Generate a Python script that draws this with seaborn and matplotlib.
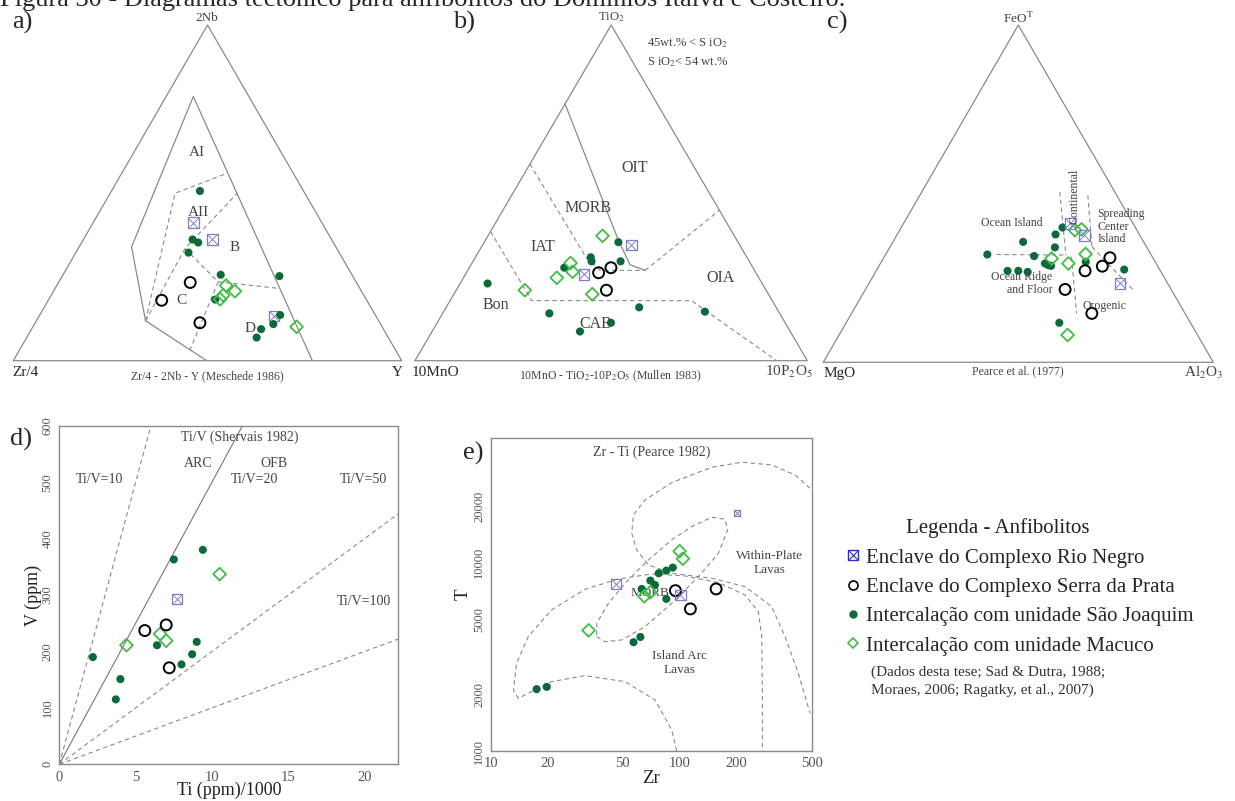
import numpy as np
import matplotlib
matplotlib.use("Agg")
import matplotlib.pyplot as plt
from matplotlib.lines import Line2D
import seaborn as sns

W, H = 1235, 801

# ---------------- data ----------------
# a) Meschede (1986): (Zr/4, 2Nb, Y) in %
a_rio_negro = [(33.1, 41.1, 25.8), (30.7, 36.2, 33.2), (26.2, 13.3, 60.5)]
a_serra_prata = [(42.8, 23.3, 33.9), (52.8, 18.0, 29.2), (46.3, 11.3, 42.4)]
a_sao_joaquim = [(26.7, 50.6, 22.8), (35.8, 36.1, 28.1), (34.8, 35.2, 30.0), (38.8, 32.2, 29.0),
                 (33.8, 25.6, 40.6), (18.9, 25.2, 55.9), (38.9, 18.2, 42.9), (24.5, 13.6, 61.9),
                 (27.6, 10.9, 61.5), (31.5, 9.4, 59.1), (33.9, 6.9, 59.2)]
a_macuco = [(34.0, 22.4, 43.6), (32.6, 20.7, 46.7), (36.2, 19.5, 44.3), (37.6, 18.3, 44.1),
            (22.0, 10.1, 67.9)]

# b) Mullen (1983): (10MnO, TiO2, 10P2O5) in %
b_rio_negro = [(27.6, 34.5, 37.9), (44.1, 25.7, 30.2)]
b_serra_prata = [(40.1, 26.2, 33.7), (36.2, 27.7, 36.1), (40.7, 21.0, 38.3)]
b_sao_joaquim = [(70.0, 23.0, 7.0), (30.5, 35.3, 34.2), (39.8, 30.8, 29.4), (40.2, 29.6, 30.2),
                 (32.8, 29.6, 37.6), (48.1, 27.7, 24.2), (58.7, 14.1, 27.2), (34.9, 15.9, 49.2),
                 (18.8, 14.6, 66.6), (44.4, 11.3, 44.3), (53.6, 8.7, 37.7)]
b_macuco = [(33.6, 37.2, 29.2), (45.8, 29.1, 25.1), (46.6, 26.5, 26.9), (51.5, 24.7, 23.8),
            (61.5, 21.0, 17.5), (44.9, 19.8, 35.3)]

# c) Pearce et al. (1977): (MgO, FeOT, Al2O3) in %
c_rio_negro = [(16.2, 41.2, 42.7), (14.2, 37.7, 48.1), (12.2, 23.4, 64.4)]
c_serra_prata = [(11.0, 31.0, 58.0), (14.2, 28.5, 57.3), (19.3, 27.1, 53.5), (27.2, 21.6, 51.2),
                 (23.9, 14.5, 61.6)]
c_sao_joaquim = [(42.0, 32.0, 26.1), (30.9, 35.7, 33.4), (30.2, 31.5, 38.3), (39.2, 27.1, 33.7),
                 (36.4, 27.1, 36.4), (34.2, 26.8, 39.0), (28.5, 29.3, 42.2), (27.9, 28.8, 43.3),
                 (27.3, 28.6, 44.1), (23.6, 34.1, 42.4), (21.5, 37.9, 40.6), (18.7, 40.0, 41.4),
                 (17.8, 29.8, 52.4), (9.1, 27.5, 63.4), (33.6, 11.7, 54.6)]
c_macuco = [(15.9, 39.2, 44.9), (14.1, 39.4, 46.5), (16.7, 32.1, 51.2), (26.1, 30.8, 43.2),
            (22.5, 29.3, 48.2), (33.3, 8.1, 58.6)]

# d) Ti/1000 and V (ppm)
d_rn_ti, d_rn_v = [7.7], [293]
d_sp_ti, d_sp_v = [5.6, 7.0, 7.2], [237, 247, 171]
d_sj_ti = [2.2, 4.0, 3.7, 7.5, 9.4, 6.4, 9.0, 8.7, 8.0]
d_sj_v = [190, 151, 115, 363, 380, 211, 217, 195, 177]
d_mc_ti, d_mc_v = [4.4, 10.5, 6.6, 7.0], [211, 337, 231, 219]
tiv_ratios = [10, 20, 50, 100]

# e) Zr and Ti (ppm)
e_rn_zr, e_rn_ti = [46, 101], [7700, 6740]
e_rn_small_zr, e_rn_small_ti = [201], [18300]
e_sp_zr, e_sp_ti = [95, 156, 114], [7100, 7250, 5680]
e_sj_zr = [17.5, 19.8, 57, 62, 63, 70, 74, 77.5, 85, 92, 85]
e_sj_ti = [2130, 2190, 3780, 4030, 7250, 8030, 7610, 8780, 9070, 9410, 6420]
e_mc_zr, e_mc_ti = [33, 100, 104, 65, 70], [4370, 11500, 10500, 6630, 6960]

# field boundaries (ternary %)
a_solid = [(23, 0, 77), (14.3, 78.7, 7.0), (52.6, 33.9, 13.5), (60.0, 11.9, 28.1), (50.2, 0, 49.8)]
a_dashed = [
    [(60.0, 11.9, 28.1), (33.4, 49.9, 16.7), (17.1, 55.8, 27.1)],
    [(60.0, 11.9, 28.1), (39.1, 33.4, 27.5), (17.5, 49.8, 32.7)],
    [(39.1, 33.4, 27.5), (35.5, 23.5, 41.0), (20.6, 21.5, 57.9)],
    [(35.5, 23.5, 41.0), (52.9, 3.2, 43.9)],
]
b_solid = [(23.5, 76.5, 0), (30.2, 36.0, 33.8), (30.9, 28.6, 40.5), (27.9, 26.9, 45.2)]
b_dashed = [
    [(27.9, 26.9, 45.2), (0, 44.8, 55.2)],
    [(41.4, 58.6, 0), (41.0, 30.6, 28.4), (39.4, 26.9, 33.7), (27.9, 26.9, 45.2)],
    [(61.5, 38.5, 0), (61.3, 17.9, 20.8), (20.6, 17.9, 61.6), (7.8, 0, 92.2)],
]
c_dashed = [
    [(14.1, 50.5, 35.4), (21.9, 31.8, 46.3)],
    [(7.4, 49.6, 43.1), (14.0, 34.3, 51.8)],
    [(39.6, 32.0, 28.5), (21.9, 31.8, 46.3)],
    [(20.7, 31.3, 48.0), (27.8, 14.5, 57.7)],
    [(14.0, 34.3, 51.8), (9.8, 21.4, 68.8)],
]

# Pearce 1982 field outlines (Zr, Ti)
e_iat_zr = [96.5, 90.8, 74.1, 51.4, 31.6, 21.0, 15.8, 14.0, 13.2, 13.7, 15.8, 21.0, 31.6, 47.4,
            71.2, 106.8, 160.3, 221.9, 261.1, 271.9, 274.1, 274.1]
e_iat_ti = [1000, 1293, 1866, 2334, 2512, 2334, 2024, 1904, 2108, 2921, 4047, 5607, 7219, 8190,
            8703, 8497, 7832, 6735, 5494, 4047, 1943, 1000]
e_wpl_zr = [490, 408, 307, 213, 147.8, 90.8, 65.6, 56.9, 55.8, 59.3, 68.3, 90.8, 147.8, 221.9,
            307, 361.4, 425, 490]
e_wpl_ti = [24810, 29210, 33010, 34100, 32080, 26590, 21510, 17910, 14320, 11680, 9720, 8780,
            8260, 7457, 5840, 4047, 2585, 1585]
e_morb_zr = [36.4, 40.3, 49.4, 65.6, 90.8, 125.7, 160.3, 179.6, 173.9, 147.8, 115.8, 90.8,
             68.3, 51.4, 42.0, 36.4, 36.4]
e_morb_ti = [4047, 3806, 3885, 4574, 6084, 8428, 11210, 14910, 16990, 17410, 15530, 13200,
             10330, 7769, 6084, 4764, 4047]

# ---------------- style ----------------
sns.set_style("white")
plt.rcParams['font.family'] = ['Liberation Serif', 'DejaVu Serif']
plt.rcParams['mathtext.fontset'] = 'stix'

GRAY = '#8a8a8a'
TXT = '#444444'
C_RN = '#7f7fc6'
C_SJ = '#0b6a38'
C_MC = '#3fbd45'

fig = plt.figure(figsize=(W / 100, H / 100), dpi=100)


def px_rect(l, r, t, b):
    return [l / W, 1 - b / H, (r - l) / W, (b - t) / H]


def ftext(x, y, s, **kw):
    kw.setdefault('ha', 'center')
    kw.setdefault('va', 'center')
    fig.text(x / W, 1 - y / H, s, **kw)


def tern_xy(pts):
    arr = np.asarray(pts, float)
    arr = arr / arr.sum(axis=1, keepdims=True)
    return arr[:, 2] + arr[:, 1] / 2, arr[:, 1] * np.sqrt(3) / 2


def draw(ax, x, y, kind, scale=1.0):
    if kind == 'rn':
        sns.scatterplot(x=x, y=y, ax=ax, marker='s', s=60 * scale, color=C_RN, facecolor='none',
                        edgecolor=C_RN, linewidth=0.9, legend=False, zorder=3, clip_on=False)
        sns.scatterplot(x=x, y=y, ax=ax, marker='x', s=60 * scale, color=C_RN,
                        linewidth=0.7, legend=False, zorder=3, clip_on=False)
    elif kind == 'sp':
        sns.scatterplot(x=x, y=y, ax=ax, marker='o', s=62, color='black', facecolor='none',
                        edgecolor='black', linewidth=1.4, legend=False, zorder=3, clip_on=False)
    elif kind == 'sj':
        sns.scatterplot(x=x, y=y, ax=ax, marker='o', s=34, color=C_SJ, edgecolor='none',
                        legend=False, zorder=3, clip_on=False)
    else:
        sns.scatterplot(x=x, y=y, ax=ax, marker='D', s=42, color=C_MC, facecolor='none',
                        edgecolor=C_MC, linewidth=1.3, legend=False, zorder=3, clip_on=False)


def tern_panel(rect, groups, solid, dashed):
    ax = fig.add_axes(rect)
    ax.set_xlim(0, 1)
    ax.set_ylim(0, np.sqrt(3) / 2)
    ax.axis('off')
    x, y = tern_xy([(100, 0, 0), (0, 100, 0), (0, 0, 100), (100, 0, 0)])
    ax.plot(x, y, color=GRAY, lw=0.9, clip_on=False)
    if solid:
        x, y = tern_xy(solid)
        ax.plot(x, y, color=GRAY, lw=0.9)
    for line in dashed:
        x, y = tern_xy(line)
        ax.plot(x, y, color=GRAY, lw=0.8, ls=(0, (4, 3)))
    for kind, pts in groups:
        x, y = tern_xy(pts)
        draw(ax, x, y, kind)
    return ax


# ---- a ----
ax_a = tern_panel(px_rect(13.3, 401.7, 25, 360.7),
                  [('rn', a_rio_negro), ('sj', a_sao_joaquim), ('mc', a_macuco), ('sp', a_serra_prata)],
                  a_solid, a_dashed)
for s, x, y in [('AI', 0.472, 0.538), ('AII', 0.478, 0.383), ('B', 0.571, 0.293),
                ('C', 0.434, 0.156), ('D', 0.609, 0.084)]:
    ax_a.text(x, y, s, ha='center', va='center', fontsize=11, color=TXT, zorder=2)
ftext(12, 22, 'a)', ha='left', fontsize=19)
ftext(207, 18, '2Nb', fontsize=9.5, color=TXT)
ftext(25, 373, 'Zr/4', fontsize=11)
ftext(397, 373, 'Y', fontsize=11)
ftext(207, 376, 'Zr/4 - 2Nb - Y (Meschede 1986)', fontsize=8.5, color=TXT)

# ---- b ----
ax_b = tern_panel(px_rect(415, 807.3, 25, 360.7),
                  [('rn', b_rio_negro), ('sj', b_sao_joaquim), ('mc', b_macuco), ('sp', b_serra_prata)],
                  b_solid, b_dashed)
for s, x, y in [('OIT', 0.559, 0.497), ('MORB', 0.440, 0.395), ('IAT', 0.325, 0.293),
                ('OIA', 0.780, 0.214), ('Bon', 0.206, 0.144), ('CAB', 0.461, 0.095)]:
    ax_b.text(x, y, s, ha='center', va='center', fontsize=11.5, color=TXT, zorder=2)
ftext(453, 22, 'b)', ha='left', fontsize=19)
ftext(611, 17, 'TiO$_2$', fontsize=9, color=TXT)
ftext(435, 372, '10MnO', fontsize=11)
ftext(789, 372, '10P$_2$O$_5$', fontsize=11, color=TXT)
ftext(610, 376, '10MnO - TiO$_2$-10P$_2$O$_5$ (Mullen 1983)', fontsize=8.5, color=TXT)
ftext(647, 43, '45wt.% < S iO$_2$', ha='left', fontsize=9, color=TXT)
ftext(647, 62, 'S iO$_2$< 54 wt.%', ha='left', fontsize=9, color=TXT)

# ---- c ----
ax_c = tern_panel(px_rect(823.3, 1213.3, 25, 362.3),
                  [('sj', c_sao_joaquim), ('mc', c_macuco), ('rn', c_rio_negro), ('sp', c_serra_prata)],
                  None, c_dashed)
ax_c.text(0.483, 0.358, 'Ocean Island', ha='center', va='center', fontsize=8.5, color=TXT)
ax_c.text(0.645, 0.425, 'Continental', ha='center', va='center', rotation=90, fontsize=8.5, color=TXT)
ax_c.text(0.703, 0.348, 'Spreading\nCenter\nIsland', ha='left', va='center', fontsize=8.5,
          color=TXT, linespacing=1.05)
ax_c.text(0.587, 0.203, 'Ocean Ridge\nand Floor', ha='right', va='center', fontsize=8.5,
          color=TXT, linespacing=1.1)
ax_c.text(0.722, 0.144, 'Orogenic', ha='center', va='center', fontsize=8.5, color=TXT)
ftext(827, 22, 'c)', ha='left', fontsize=19)
ftext(1018, 18, 'FeO$^{\\mathrm{T}}$', fontsize=9.5, color=TXT)
ftext(840, 373, 'MgO', fontsize=11)
ftext(1204, 373, 'Al$_2$O$_3$', fontsize=11, color=TXT)
ftext(1018, 371, 'Pearce et al. (1977)', fontsize=8.5, color=TXT)

# ---- d ----
ax_d = fig.add_axes(px_rect(59.3, 398.3, 425.7, 764.3))
xmax_d = 22.2
ti_line = np.array([0, xmax_d])
for r in tiv_ratios:
    ax_d.plot(ti_line, ti_line * 1000 / r, color=GRAY if r != 20 else '#777777', lw=0.8,
              ls='-' if r == 20 else (0, (4, 3)))
draw(ax_d, d_sj_ti, d_sj_v, 'sj')
draw(ax_d, d_mc_ti, d_mc_v, 'mc')
draw(ax_d, d_sp_ti, d_sp_v, 'sp')
draw(ax_d, d_rn_ti, d_rn_v, 'rn')
ax_d.set_xlim(0, xmax_d)
ax_d.set_ylim(0, 600)
ax_d.set_xticks([0, 5, 10, 15, 20])
ax_d.set_yticks(range(0, 601, 100))
for s, x, y in [('Ti/V (Shervais 1982)', 11.8, 580), ('ARC', 9.1, 533), ('OFB', 14.05, 533),
                ('Ti/V=10', 2.66, 504), ('Ti/V=20', 12.76, 504), ('Ti/V=50', 19.89, 504),
                ('Ti/V=100', 19.96, 288)]:
    ax_d.text(x, y, s, ha='center', va='center', fontsize=10, color=TXT)
ax_d.set_xlabel('Ti (ppm)/1000', fontsize=13, color='#222222')
ax_d.set_ylabel('V (ppm)', fontsize=13, color='#222222')
ax_d.xaxis.set_label_coords(0.5, -0.052)
ax_d.yaxis.set_label_coords(-0.051, 0.5)
ftext(10, 439, 'd)', ha='left', fontsize=19)

# ---- e ----
ax_e = fig.add_axes(px_rect(490.7, 811.7, 438.3, 751))
ax_e.set_xscale('log')
ax_e.set_yscale('log')
for zr, ti in [(e_iat_zr, e_iat_ti), (e_wpl_zr, e_wpl_ti), (e_morb_zr, e_morb_ti)]:
    ax_e.plot(zr, ti, color=GRAY, lw=0.8, ls=(0, (4, 3)))
draw(ax_e, e_sj_zr, e_sj_ti, 'sj')
draw(ax_e, e_mc_zr, e_mc_ti, 'mc')
draw(ax_e, e_sp_zr, e_sp_ti, 'sp')
draw(ax_e, e_rn_zr, e_rn_ti, 'rn')
draw(ax_e, e_rn_small_zr, e_rn_small_ti, 'rn', scale=0.35)
ax_e.set_xlim(10, 500)
ax_e.set_ylim(1000, 45700)
ax_e.set_xticks([10, 20, 50, 100, 200, 500])
ax_e.set_xticklabels(['10', '20', '50', '100', '200', '500'])
ax_e.set_yticks([1000, 2000, 5000, 10000, 20000])
ax_e.set_yticklabels(['1000', '2000', '5000', '10000', '20000'])
ax_e.minorticks_off()
ax_e.text(0.5, 0.955, 'Zr - Ti (Pearce 1982)', transform=ax_e.transAxes, ha='center', va='center',
          fontsize=10, color=TXT)
ax_e.text(298, 9920, 'Within-Plate\nLavas', ha='center', va='center', fontsize=9.5, color=TXT)
ax_e.text(69.7, 6870, 'MORB', ha='center', va='center', fontsize=9.5, color=TXT, zorder=2)
ax_e.text(99.7, 2921, 'Island Arc\nLavas', ha='center', va='center', fontsize=9.5, color=TXT)
ax_e.set_xlabel('Zr', fontsize=13.5, color='#222222')
ax_e.set_ylabel('T', fontsize=13.5, color='#222222')
ax_e.xaxis.set_label_coords(0.5, -0.061)
ax_e.yaxis.set_label_coords(-0.058, 0.5)
ftext(463, 453, 'e)', ha='left', fontsize=19)

for ax in (ax_d, ax_e):
    for sp in ax.spines.values():
        sp.set_color(GRAY)
        sp.set_linewidth(1.0)
    ax.tick_params(direction='out', length=3, width=0.8, color=GRAY, labelsize=10.5,
                   labelcolor='#555555', pad=1.5)
    ax.tick_params(axis='y', labelrotation=90, labelsize=9, pad=1)
    for lab in ax.get_yticklabels():
        lab.set_va('center')

# ---- legend ----
ftext(998, 528, 'Legenda - Anfibolitos', fontsize=15, color='#222222')
handles = [
    (Line2D([], [], ls='none', marker='s', ms=7, mfc='none', mec='#2a2ad6', mew=1.0),
     Line2D([], [], ls='none', marker='x', ms=7, mec='#2a2ad6', mew=0.8)),
    Line2D([], [], ls='none', marker='o', ms=6.5, mfc='none', mec='black', mew=1.2),
    Line2D([], [], ls='none', marker='o', ms=6, mfc=C_SJ, mec='none'),
    Line2D([], [], ls='none', marker='D', ms=5.5, mfc='none', mec=C_MC, mew=1.2),
]
labels = ['Enclave do Complexo Rio Negro', 'Enclave do Complexo Serra da Prata',
          'Intercalação com unidade São Joaquim', 'Intercalação com unidade Macuco']
fig.legend(handles, labels, loc='upper left', bbox_to_anchor=(842.6 / W, 1 - 548 / H),
           frameon=False, fontsize=15, handlelength=1.0, handletextpad=0.12,
           labelspacing=0.47, borderpad=0, borderaxespad=0)
ftext(871, 672, '(Dados desta tese; Sad & Dutra, 1988;', ha='left', fontsize=11, color='#333333')
ftext(871, 690, 'Moraes, 2006; Ragatky, et al., 2007)', ha='left', fontsize=11, color='#333333')

# ---- title (cropped at the top like the source) ----
fig.text(0, 1 - 6 / H, 'Figura 30 - Diagramas tectônico para anfibolitos do Domínios Italva e Costeiro.',
         ha='left', va='baseline', fontsize=19)

fig.savefig('out.png', dpi=100)
